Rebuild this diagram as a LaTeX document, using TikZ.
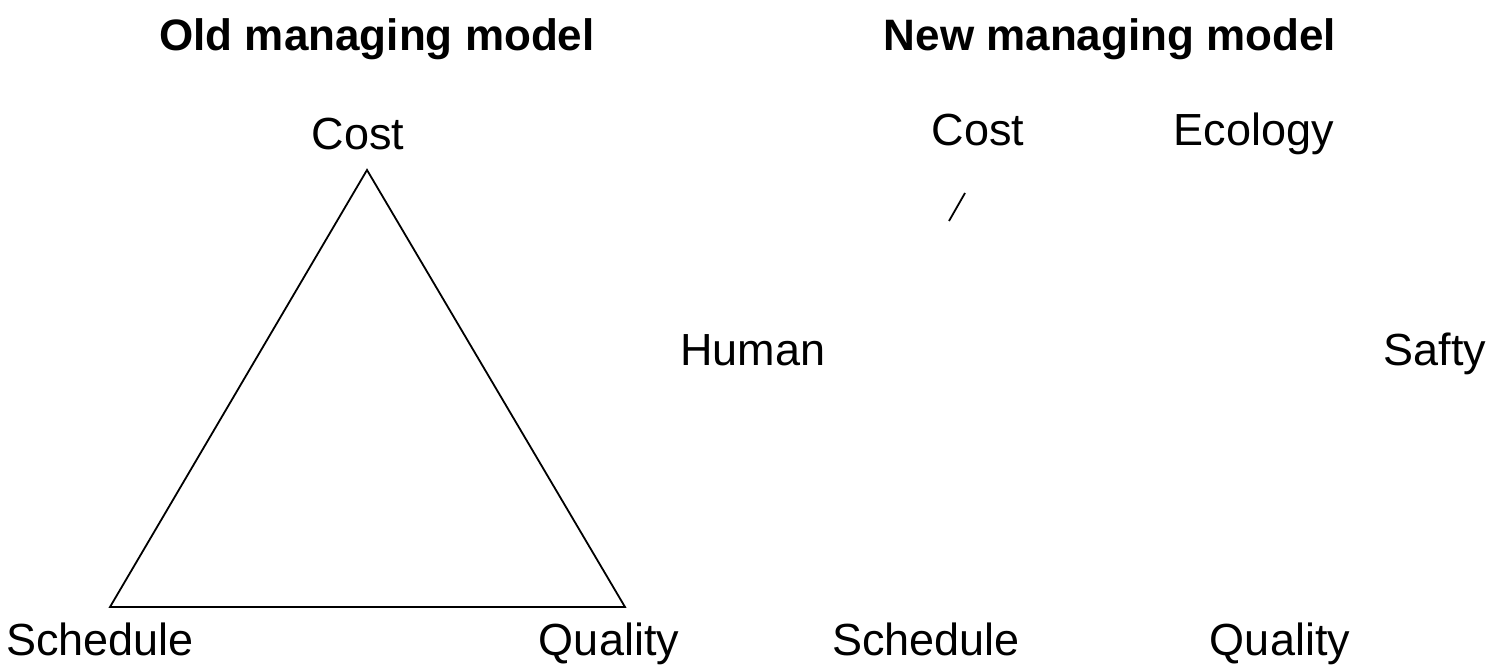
\documentclass[tikz,border=0pt]{standalone}
\usepackage{fontspec}
\setmainfont{Liberation Sans}
\usepackage{tikz}
\usetikzlibrary{positioning}

\tikzset{
  lbl/.style={inner sep=0pt, anchor=base, font=\fontsize{22.5}{26}\selectfont},
  ttl/.style={inner sep=0pt, anchor=base, font=\fontsize{22}{26}\selectfont\bfseries},
  edge/.style={line width=0.9pt, line join=miter}
}

\begin{document}
\begin{tikzpicture}[x=0.5pt, y=-0.5pt]
            \useasboundingbox (0,0) rectangle (1488,672);

            % Titles
            \node[ttl] (oldtitle) at (377,51) {Old managing model};
            \node[ttl] (newtitle) at (1110,51) {New managing model};

            % Old model
            \node[lbl] (oldcost) at (358,150) {Cost};
            \node[lbl] (oldschedule) at (100,656) {Schedule};
            \node[lbl] (oldquality) at (609,656) {Quality};
            \coordinate (apex) at (367,170);
            \coordinate (left) at (110,607);
            \coordinate (right) at (625,607);
            \draw[edge] (apex) -- (left) -- (right) -- cycle;

            % New model
            \node[lbl] (newcost) at (978,146) {Cost};
            \node[lbl] (ecology) at (1254,146) {Ecology};
            \node[lbl] (human) at (753,366) {Human};
            \node[lbl] (safty) at (1435,366) {Safty};
            \node[lbl] (newschedule) at (926,656) {Schedule};
            \node[lbl] (newquality) at (1280,656) {Quality};
            \coordinate (tickA) at (965,193);
            \coordinate (tickB) at (949,221);
            \draw[edge] (tickA) -- (tickB);
\end{tikzpicture}
\end{document}
